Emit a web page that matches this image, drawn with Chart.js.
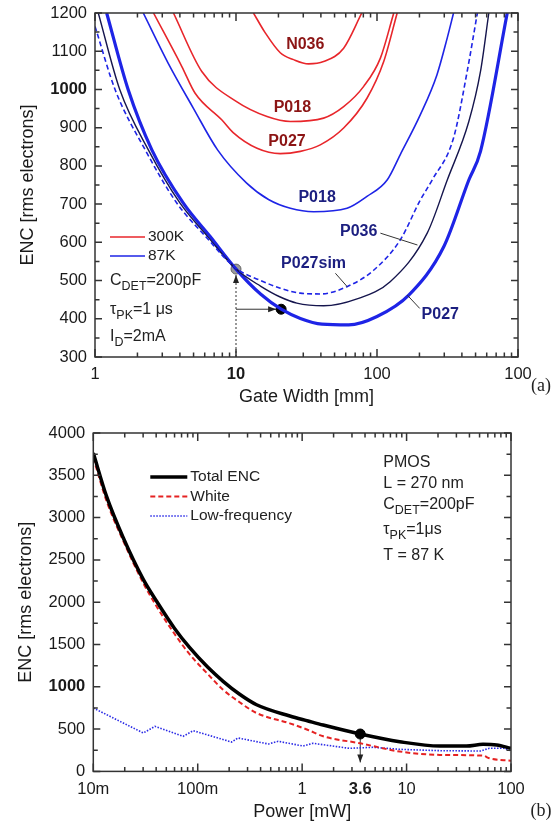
<!DOCTYPE html>
<html lang="en">
<head>
<meta charset="UTF-8" />
<title>ENC vs gate width and power</title>
<script src="https://cdn.jsdelivr.net/npm/chart.js"></script>
<style>
  body { margin: 0; background: #fff; width: 556px; height: 829px; position: relative; overflow: hidden; }
  canvas { position: absolute; left: 0; }
</style>
</head>
<body>
<canvas id="gate" width="556" height="410" style="top:0"></canvas>
<canvas id="power" width="556" height="414" style="top:415px"></canvas>
<script>
const FONT = '"Liberation Sans", Arial, sans-serif';
const RED = '#e8262b', BLUE = '#1e24e6', NAVY = '#15154d';
const RED_TXT = '#8c1515', BLUE_TXT = '#1c1f80';

// (a) ENC [rms electrons] vs gate width [mm], points are [width, enc]
const n036_300K = [[13.3,1200],[16,1150],[20.6,1096],[25.6,1078],[32.7,1067],[41.8,1073],[58,1108],[78,1200]];
const p018_300K = [[3.6,1200],[5.72,1047],[10.1,968],[16.6,929],[24.3,916],[41.8,925],[58,955],[80.5,1008],[105.7,1082],[131.5,1200]];
const p027_300K = [[2.6,1200],[4.13,1060],[5.13,990],[7.95,920],[9.55,887],[14.1,846],[20.6,832],[28.6,838],[39.6,855],[58,899],[84.9,977],[111.6,1073],[139,1200]];
const p018_87K = [[2.2,1200],[3.3,1069],[5.0,950],[7.4,842],[11.9,755],[17,712],[24.3,689],[35.5,680],[61.3,689],[84.9,720],[118,763],[146,829],[203,934],[266,1038],[315,1135],[349,1200]];
const p036_87K = [[1.055,1200],[1.5,999],[2.39,842],[4.0,703],[6.3,615],[10,530],[15,485],[20.6,457],[27,441],[41.8,434],[72.2,452],[124,497],[227,624],[315,763],[448,916],[542,1047],[621,1200]];
const p027sim_87K = [[1,1165],[1.39,999],[2.27,842],[3.8,703],[6.1,615],[10,532],[15,500],[20.6,480],[28.6,467],[39.6,465],[61.3,484],[94.6,527],[146,606],[203,711],[246,763],[349,873],[436,1047],[515,1200]];
const p027_87K = [[1.21,1200],[1.72,999],[2.53,842],[4.22,703],[6.56,615],[10,530],[15,464],[20.9,425],[28.6,401],[40.7,386],[63,384],[100,406],[168,462],[298,589],[448,763],[542,838],[839,1200]];
const startPoint = [10, 530];
const optPoint = [20.9, 425];

const gateTicks = [1, 10, 100, 1000];
const gateTickLabels = ['1', '10', '100', '100'];
const encTicksA = [300, 400, 500, 600, 700, 800, 900, 1000, 1100, 1200];

// (b) ENC vs power [mW] for the P027 device at 87 K
const totalEnc = [[0.01,3763],[0.0134,3250],[0.0194,2759],[0.0301,2270],[0.0404,2011],[0.06,1690],[0.0842,1459],[0.125,1230],[0.175,1065],[0.25,915],[0.366,788],[0.762,655],[1.14,596],[1.59,548],[3.6,442],[8.6,351],[20.8,300],[37.4,300],[54,320],[73,312],[100,273]];
const whiteEnc = [[0.01,3705],[0.0134,3195],[0.0194,2722],[0.0301,2225],[0.0404,1950],[0.06,1625],[0.0842,1380],[0.125,1150],[0.175,965],[0.25,820],[0.366,690],[0.762,568],[1.14,490],[1.59,415],[3.6,332],[8.6,235],[20.8,195],[54,186],[62,155],[100,126]];
const lowFreqEnc = [[0.01,749],[0.0301,454],[0.039,533],[0.0725,415],[0.0906,481],[0.211,347],[0.243,395],[0.474,324],[0.589,356],[1.02,300],[1.27,332],[2.82,273],[4.8,285],[8.6,261],[20.8,245],[51,241],[62,273],[85,273],[100,245]];
const optPower = [3.6, 442];

const powerTicks = [0.01, 0.1, 1, 3.6, 10, 100];
const powerTickLabels = ['10m', '100m', '1', '3.6', '10', '100'];
const encTicksB = [0, 500, 1000, 1500, 2000, 2500, 3000, 3500, 4000];

const pts = arr => arr.map(([x, y]) => ({ x, y }));
const decades = (from, to) => {
  const out = [];
  for (let d = from; d < to; d *= 10) for (let k = 2; k <= 9; k++) out.push(k * d);
  return out;
};
const steps = (a, b, s) => { const out = []; for (let v = a; v <= b; v += s) out.push(v); return out; };

function curve(label, data, color, width, dash) {
  return {
    label, data: pts(data), borderColor: color, borderWidth: width, borderDash: dash || [],
    pointRadius: 0, fill: false, cubicInterpolationMode: 'monotone'
  };
}
function marker(data, fill, stroke, r) {
  return { data: pts([data]), showLine: false, pointRadius: r, pointBackgroundColor: fill, pointBorderColor: stroke, pointBorderWidth: 1 };
}
function tickFont(boldVals) {
  return c => ({ family: FONT, size: 16.5, weight: c.tick && boldVals.includes(c.tick.value) ? 'bold' : 'normal' });
}

function richText(ctx, x, y, parts, size) {
  let cx = x;
  ctx.textBaseline = 'middle';
  ctx.textAlign = 'left';
  parts.forEach(([t, sub]) => {
    ctx.font = (sub ? size * 0.78 : size) + 'px ' + FONT;
    ctx.fillText(t, cx, sub ? y + size * 0.32 : y);
    cx += ctx.measureText(t).width;
  });
}

function arrow(ctx, x1, y1, x2, y2, dash) {
  ctx.save();
  ctx.strokeStyle = '#333';
  ctx.fillStyle = '#222';
  ctx.lineWidth = 1;
  if (dash) ctx.setLineDash(dash);
  ctx.beginPath(); ctx.moveTo(x1, y1); ctx.lineTo(x2, y2); ctx.stroke();
  ctx.setLineDash([]);
  const a = Math.atan2(y2 - y1, x2 - x1), L = 8, W = 3;
  ctx.beginPath();
  ctx.moveTo(x2, y2);
  ctx.lineTo(x2 - L * Math.cos(a) + W * Math.sin(a), y2 - L * Math.sin(a) - W * Math.cos(a));
  ctx.lineTo(x2 - L * Math.cos(a) - W * Math.sin(a), y2 - L * Math.sin(a) + W * Math.cos(a));
  ctx.closePath(); ctx.fill();
  ctx.restore();
}

// box around the plot with inward ticks on all four sides
const framePlugin = {
  id: 'frame',
  afterDraw(chart, args, opts) {
    const { ctx, chartArea: a, scales: { x, y } } = chart;
    ctx.save();
    ctx.strokeStyle = '#333';
    ctx.lineWidth = 1.5;
    ctx.strokeRect(a.left, a.top, a.right - a.left, a.bottom - a.top);
    ctx.beginPath();
    const mark = (vals, len, horiz) => vals.forEach(v => {
      if (horiz) {
        const p = x.getPixelForValue(v);
        ctx.moveTo(p, a.bottom); ctx.lineTo(p, a.bottom - len);
        ctx.moveTo(p, a.top); ctx.lineTo(p, a.top + len);
      } else {
        const p = y.getPixelForValue(v);
        ctx.moveTo(a.left, p); ctx.lineTo(a.left + len, p);
        ctx.moveTo(a.right, p); ctx.lineTo(a.right - len, p);
      }
    });
    mark(opts.xMajor, 8, true); mark(opts.xMinor, 4.5, true);
    mark(opts.yMajor, 7, false); mark(opts.yMinor, 4.5, false);
    ctx.stroke();
    ctx.restore();
  }
};

function baseOptions(xScale, yScale, frame, annotate) {
  return {
    type: 'line',
    options: {
      responsive: false, animation: false, devicePixelRatio: 1,
      layout: { padding: annotate.padding },
      plugins: { legend: { display: false }, tooltip: { enabled: false }, frame },
      scales: { x: xScale, y: yScale }
    },
    plugins: [framePlugin, annotate.plugin]
  };
}

// ---------- (a) ----------
const gateNotes = {
  id: 'gateNotes',
  beforeDatasetsDraw(chart) {
    const { ctx, chartArea: a, scales: { x, y } } = chart;
    const sx = x.getPixelForValue(startPoint[0]), sy = y.getPixelForValue(startPoint[1]);
    const oy = y.getPixelForValue(optPoint[1]), ox = x.getPixelForValue(optPoint[0]);
    arrow(ctx, sx, a.bottom, sx, sy + 6, [2, 2]);
    arrow(ctx, sx, oy, ox - 5, oy);
  },
  afterDraw(chart) {
    const { ctx, chartArea: a, scales: { x, y } } = chart;
    ctx.save();
    ctx.font = 'bold 16px ' + FONT;
    ctx.textAlign = 'center';
    ctx.textBaseline = 'middle';
    const lab = (t, wx, wy, c) => { ctx.fillStyle = c; ctx.fillText(t, x.getPixelForValue(wx), y.getPixelForValue(wy)); };
    lab('N036', 31, 1117, RED_TXT);
    lab('P018', 25.1, 952, RED_TXT);
    lab('P027', 23, 864, RED_TXT);
    lab('P018', 37.6, 716, BLUE_TXT);
    lab('P036', 74.2, 628, BLUE_TXT);
    lab('P027sim', 35.5, 545, BLUE_TXT);
    lab('P027', 281, 410, BLUE_TXT);
    // leaders from labels to curves
    ctx.strokeStyle = '#333';
    ctx.lineWidth = 1;
    ctx.beginPath();
    [[105.7, 624, 193.6, 593], [50.7, 519, 61.5, 484], [164, 462, 201, 427]].forEach(([x1, y1, x2, y2]) => {
      ctx.moveTo(x.getPixelForValue(x1), y.getPixelForValue(y1));
      ctx.lineTo(x.getPixelForValue(x2), y.getPixelForValue(y2));
    });
    ctx.stroke();

    // temperature key
    const kx = a.left + 15, ky = a.top + 224;
    [[RED, '300K'], [BLUE, '87K']].forEach(([c, t], i) => {
      ctx.strokeStyle = c; ctx.lineWidth = 1.6;
      ctx.beginPath(); ctx.moveTo(kx, ky + i * 19); ctx.lineTo(kx + 35, ky + i * 19); ctx.stroke();
      ctx.fillStyle = '#222'; ctx.font = '15.5px ' + FONT; ctx.textAlign = 'left';
      ctx.fillText(t, kx + 38, ky + i * 19);
    });
    ctx.fillStyle = '#222';
    richText(ctx, kx, a.top + 268, [['C'], ['DET', 1], ['=200pF']], 16);
    richText(ctx, kx, a.top + 297, [['τ'], ['PK', 1], ['=1 μs']], 16);
    richText(ctx, kx, a.top + 324, [['I'], ['D', 1], ['=2mA']], 16);

    ctx.font = '18px "Liberation Serif", "Times New Roman", serif';
    ctx.textAlign = 'center';
    ctx.fillText('(a)', 541, 386);
    ctx.restore();
  }
};

new Chart(document.getElementById('gate'), {
  ...baseOptions(
    {
      type: 'logarithmic', min: 1, max: 1000,
      afterBuildTicks: s => { s.ticks = gateTicks.map(v => ({ value: v })); },
      afterFit: s => { s.height = 53; },
      ticks: { callback: v => gateTickLabels[gateTicks.indexOf(v)], autoSkip: false, maxRotation: 0, padding: 0, color: '#1a1a1a', font: tickFont([10]) },
      grid: { display: false }, border: { display: false },
      title: { display: true, text: 'Gate Width [mm]', color: '#1a1a1a', font: { family: FONT, size: 18 }, padding: { top: 0, bottom: 2 } }
    },
    {
      min: 300, max: 1200,
      afterBuildTicks: s => { s.ticks = encTicksA.map(v => ({ value: v })); },
      afterFit: s => { s.width = 95; },
      ticks: { callback: v => String(v), padding: 0, color: '#1a1a1a', font: tickFont([1000]) },
      grid: { display: false }, border: { display: false },
      title: { display: true, text: 'ENC [rms electrons]', color: '#1a1a1a', font: { family: FONT, size: 18 }, padding: { top: 17, bottom: 0 } }
    },
    { xMajor: gateTicks, xMinor: decades(1, 1000), yMajor: encTicksA, yMinor: steps(350, 1150, 100) },
    { plugin: gateNotes, padding: { top: 13, right: 38, left: 0, bottom: 0 } }
  ),
  data: {
    datasets: [
      curve('N036 300K', n036_300K, RED, 1.6),
      curve('P018 300K', p018_300K, RED, 1.6),
      curve('P027 300K', p027_300K, RED, 1.6),
      curve('P018 87K', p018_87K, BLUE, 1.6),
      curve('P027sim 87K', p027sim_87K, BLUE, 1.6, [5, 3]),
      curve('P036 87K', p036_87K, NAVY, 1.4),
      curve('P027 87K', p027_87K, BLUE, 3.2),
      marker(startPoint, '#9a9a9a', '#666', 5),
      marker(optPoint, '#000', '#000', 5)
    ]
  }
});

// ---------- (b) ----------
const powerNotes = {
  id: 'powerNotes',
  beforeDatasetsDraw(chart) {
    const { ctx, chartArea: a, scales: { x, y } } = chart;
    const px = x.getPixelForValue(optPower[0]);
    arrow(ctx, px, y.getPixelForValue(optPower[1]), px, a.bottom - 9);
  },
  afterDraw(chart) {
    const { ctx, chartArea: a } = chart;
    ctx.save();
    const lx = a.left + 57, ly = a.top + 44;
    chart.data.datasets.slice(0, 3).forEach((ds, i) => {
      ctx.strokeStyle = ds.borderColor;
      ctx.lineWidth = ds.borderWidth;
      ctx.setLineDash(ds.borderDash);
      ctx.beginPath(); ctx.moveTo(lx, ly + i * 19.5); ctx.lineTo(lx + 37, ly + i * 19.5); ctx.stroke();
      ctx.setLineDash([]);
      ctx.fillStyle = '#222'; ctx.font = '15.5px ' + FONT; ctx.textAlign = 'left'; ctx.textBaseline = 'middle';
      ctx.fillText(ds.label, lx + 40, ly + i * 19.5);
    });
    const tx = a.left + 290;
    ctx.fillStyle = '#222';
    richText(ctx, tx, a.top + 30, [['PMOS']], 16);
    richText(ctx, tx, a.top + 51, [['L = 270 nm']], 16);
    richText(ctx, tx, a.top + 72, [['C'], ['DET', 1], ['=200pF']], 16);
    richText(ctx, tx, a.top + 97, [['τ'], ['PK', 1], ['=1μs']], 16);
    richText(ctx, tx, a.top + 123, [['T = 87 K']], 16);

    ctx.font = '18px "Liberation Serif", "Times New Roman", serif';
    ctx.textAlign = 'center';
    ctx.fillText('(b)', 541, 396);
    ctx.restore();
  }
};

new Chart(document.getElementById('power'), {
  ...baseOptions(
    {
      type: 'logarithmic', min: 0.01, max: 100,
      afterBuildTicks: s => { s.ticks = powerTicks.map(v => ({ value: v })); },
      afterFit: s => { s.height = 57.6; },
      ticks: { callback: v => powerTickLabels[powerTicks.indexOf(v)], autoSkip: false, maxRotation: 0, padding: 0, color: '#1a1a1a', font: tickFont([3.6]) },
      grid: { display: false }, border: { display: false },
      title: { display: true, text: 'Power [mW]', color: '#1a1a1a', font: { family: FONT, size: 18 }, padding: { top: 0, bottom: 6 } }
    },
    {
      min: 0, max: 4000,
      afterBuildTicks: s => { s.ticks = encTicksB.map(v => ({ value: v })); },
      afterFit: s => { s.width = 93.3; },
      ticks: { callback: v => String(v), padding: 0, color: '#1a1a1a', font: tickFont([1000]) },
      grid: { display: false }, border: { display: false },
      title: { display: true, text: 'ENC [rms electrons]', color: '#1a1a1a', font: { family: FONT, size: 18 }, padding: { top: 15, bottom: 0 } }
    },
    { xMajor: [0.01, 0.1, 1, 10, 100], xMinor: decades(0.01, 100), yMajor: encTicksB, yMinor: steps(250, 3750, 500) },
    { plugin: powerNotes, padding: { top: 18, right: 45, left: 0, bottom: 0 } }
  ),
  data: {
    datasets: [
      curve('Total ENC', totalEnc, '#000', 3.5),
      curve('White', whiteEnc, '#e52222', 2, [5, 3]),
      Object.assign(curve('Low-frequency', lowFreqEnc, '#2a2ae6', 1.6, [1.5, 1.5]), { cubicInterpolationMode: 'default', tension: 0 }),
      marker(optPower, '#000', '#000', 5)
    ]
  }
});
</script>
</body>
</html>
